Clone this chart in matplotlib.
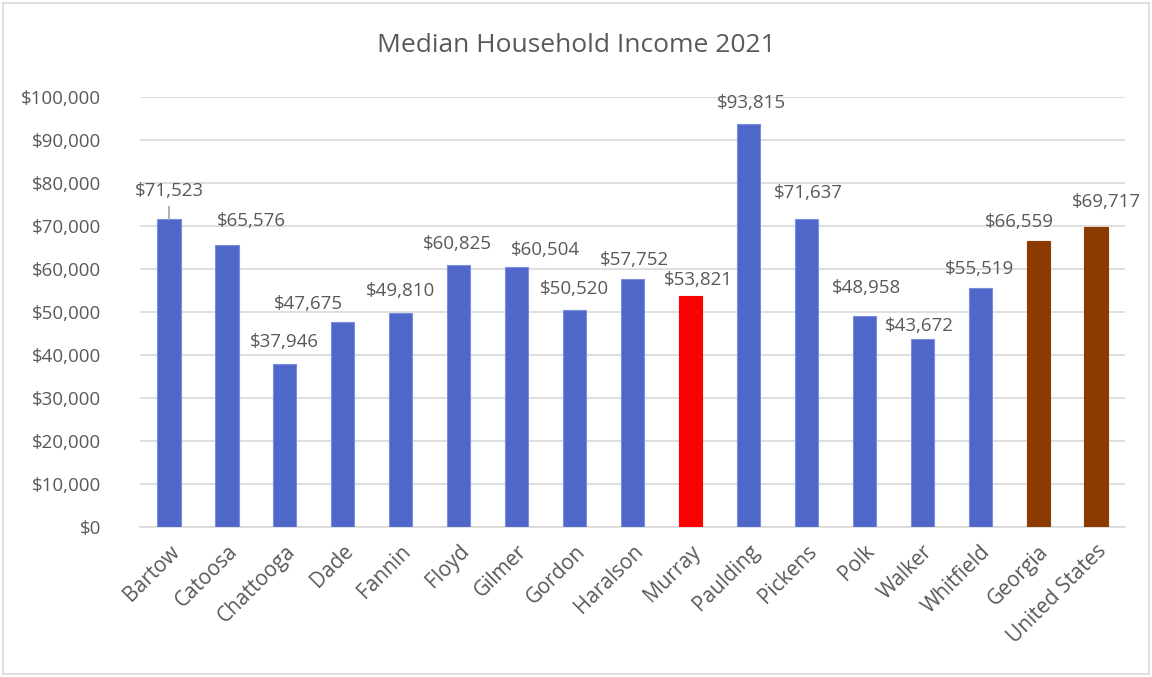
import matplotlib
matplotlib.use("Agg")
import matplotlib.pyplot as plt
from matplotlib.ticker import FuncFormatter, MultipleLocator
from matplotlib.patches import Rectangle

categories = ["Bartow", "Catoosa", "Chattooga", "Dade", "Fannin", "Floyd", "Gilmer",
              "Gordon", "Haralson", "Murray", "Paulding", "Pickens", "Polk", "Walker",
              "Whitfield", "Georgia", "United States"]
values = [71523, 65576, 37946, 47675, 49810, 60825, 60504, 50520, 57752, 53821,
          93815, 71637, 48958, 43672, 55519, 66559, 69717]
kinds = ["county"] * 9 + ["focus"] + ["county"] * 5 + ["ref", "ref"]
color_map = {"county": "#4F67C8", "focus": "#FF0000", "ref": "#8C3B00"}
edge_map = {"county": "#7A8FDC", "focus": "#FF0000", "ref": "#8C3B00"}

# label offsets in pixels (dx, dy) relative to top-centre of each bar
label_dx = [0, 24, 0, -34, 0, -1, 29, 0, 2, 8, 3, 2, 2, -3, -1, -19, 10]
label_dy = [28, 24, 22, 18, 22, 21, 17, 21, 19, 16, 21, 26, 28, 13, 19, 19, 25]

FONT = "Open Sans"
TXT = "#595959"

fig = plt.figure(figsize=(11.52, 6.77), dpi=100)
ax = fig.add_axes([140 / 1152, 1 - 527 / 677, (1125 - 140) / 1152, (527 - 97) / 677])

x = list(range(len(categories)))
ax.bar(x, values, width=0.4, color=[color_map[k] for k in kinds],
       edgecolor=[edge_map[k] for k in kinds], linewidth=0.8, zorder=3)

ax.set_xlim(-0.5, len(categories) - 0.5)
ax.set_ylim(0, 100000)
ax.yaxis.set_major_locator(MultipleLocator(10000))
ax.yaxis.set_major_formatter(FuncFormatter(lambda v, p: f"${v:,.0f}"))
ax.grid(axis="y", color="#D9D9D9", linewidth=1.2, zorder=0)
ax.set_axisbelow(True)
for s in ["top", "right", "left"]:
    ax.spines[s].set_visible(False)
ax.spines["bottom"].set_color("#D9D9D9")
ax.spines["bottom"].set_linewidth(1.2)
ax.tick_params(axis="both", length=0, colors=TXT, labelsize=13.5)
ax.tick_params(axis="y", pad=28)
ax.tick_params(axis="x", pad=10)
ax.set_xticks(x)
ax.set_xticklabels(categories, rotation=45, ha="right", rotation_mode="anchor",
                   fontfamily=FONT, color=TXT, fontsize=15)
for lab in ax.get_yticklabels():
    lab.set_fontfamily(FONT)

for i, v in enumerate(values):
    ax.annotate(f"${v:,}", xy=(i, v), xytext=(label_dx[i], label_dy[i]),
                textcoords="offset pixels", ha="center", va="center",
                fontsize=13.5, color=TXT, fontfamily=FONT, zorder=4)

# leader line for the displaced Bartow label
ax.annotate("", xy=(0, values[0]), xytext=(0, values[0] + 3000),
            arrowprops=dict(arrowstyle="-", color="#A6A6A6", lw=1.2,
                            shrinkA=0, shrinkB=0))

fig.text(0.5, 1 - 45 / 677, "Median Household Income 2021", ha="center", va="center",
         fontsize=19, color=TXT, fontfamily=FONT)

fig.patches.append(Rectangle((3 / 1152, 3 / 677), 1 - 6 / 1152, 1 - 6 / 677,
                             transform=fig.transFigure, fill=False,
                             edgecolor="#D9D9D9", linewidth=1.2))

fig.savefig("out.png", dpi=100)
